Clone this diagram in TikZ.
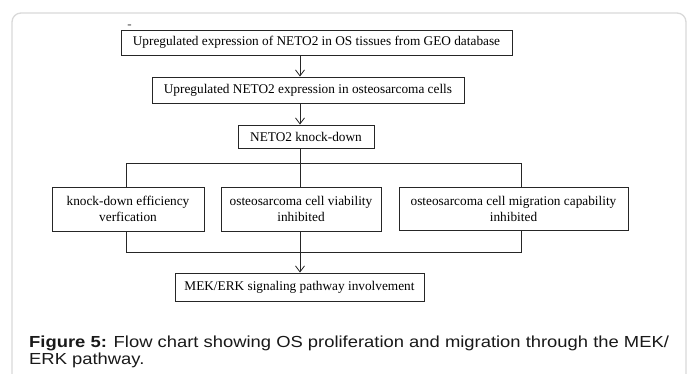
\documentclass[tikz,border=0pt]{standalone}
\usepackage{fontspec}
\setmainfont{Liberation Serif}
\newfontfamily\capfont[FakeStretch=1.15]{Liberation Sans}
\usetikzlibrary{arrows.meta}

\begin{document}
\begin{tikzpicture}[x=1pt,y=-1pt,
    box/.style={draw=black!85, line width=0.9pt, inner sep=0pt, align=center,
        font=\fontsize{13.3}{16}\selectfont},
    link/.style={draw=black!85, line width=0.8pt},
    arr/.style={link, -{Straight Barb[length=6pt,width=9pt]}},
    captext/.style={anchor=base west, inner sep=0pt, text=black!90,
        font=\capfont\fontsize{16}{17}\selectfont}]

    % Page and the light frame round it
    \useasboundingbox (0,0) rectangle (694,374);
    \fill[white] (0,0) rectangle (694,374);
    \begin{scope}
        \clip (0,0) rectangle (694,374);
        \draw[gray!30, line width=1.3pt, rounded corners=9pt] (12,13) rectangle (686,420);
    \end{scope}

    % Stray mark above the first box
    \node[text=black!75, font=\fontsize{13}{13}\selectfont] (tick) at (129.5,27) {-};

    % Main column
    \node[box, minimum width=391pt, minimum height=25pt] (geo) at (316.5,42.5)
        {Upregulated expression of NETO2 in OS tissues from GEO database};
    \node[box, minimum width=312pt, minimum height=26pt] (cells) at (308,90)
        {Upregulated NETO2 expression in osteosarcoma cells};
    \node[box, minimum width=136pt, minimum height=23pt] (kd) at (306,136.5)
        {NETO2 knock-down};

    % The three results
    \node[box, minimum width=152pt, minimum height=44pt] (eff) at (128,209)
        {knock-down efficiency\\verfication};
    \node[box, minimum width=160pt, minimum height=44pt] (via) at (301,209)
        {osteosarcoma cell viability\\inhibited};
    \node[box, minimum width=229pt, minimum height=43pt] (mig) at (513.5,208.5)
        {osteosarcoma cell migration capability\\inhibited};

    \node[box, minimum width=249pt, minimum height=28pt] (mek) at (299.5,287)
        {MEK/ERK signaling pathway involvement};

    % Helper points for the lines
    \coordinate (spine) at (300,0);
    \coordinate (legL) at (126,0);
    \coordinate (legR) at (521,0);
    \coordinate (busT) at (0,163);
    \coordinate (busB) at (0,252.5);

    % Arrows down the column
    \draw[arr] (geo.south -| spine) -- (cells.north -| spine);
    \draw[arr] (cells.south -| spine) -- (kd.north -| spine);

    % Split into three
    \draw[link] (eff.north -| legL) |- (busT -| legR) -- (mig.north -| legR);
    \draw[link] (kd.south -| spine) -- (via.north -| spine);

    % Join again
    \draw[link] (eff.south -| legL) |- (busB -| legR) -- (mig.south -| legR);
    \draw[link] (via.south -| spine) -- (spine |- busB);
    \draw[arr] (spine |- busB) -- (mek.north -| spine);

    % Caption
    \node[captext] (cap1) at (29,347)
        {\textbf{Figure 5:} Flow chart showing OS proliferation and migration through the MEK/};
    \node[captext] (cap2) at (29,364) {ERK pathway.};
\end{tikzpicture}
\end{document}
